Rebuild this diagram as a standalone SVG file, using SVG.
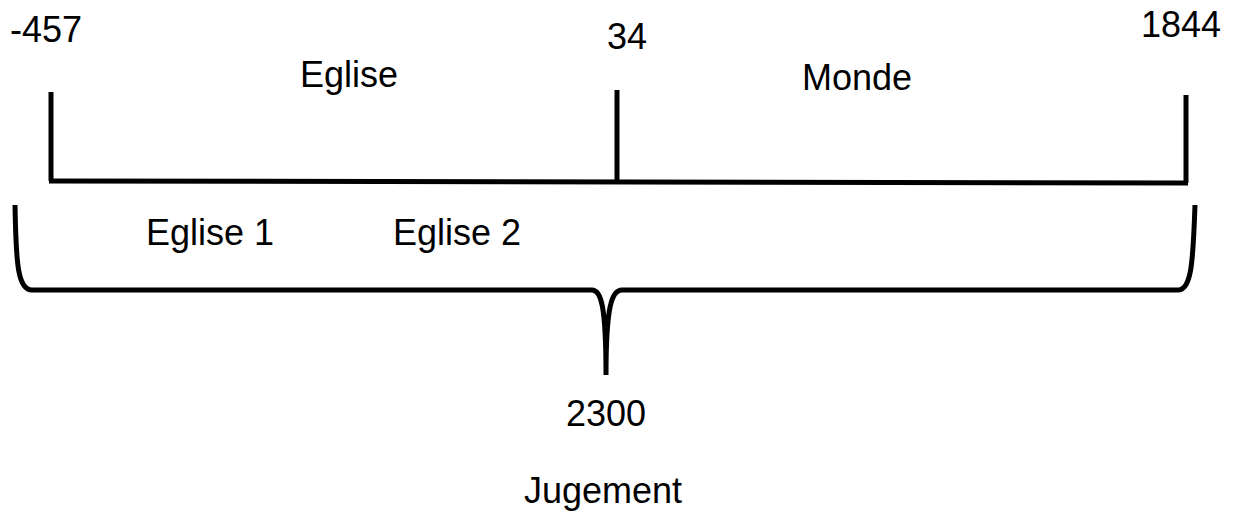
<svg xmlns="http://www.w3.org/2000/svg" width="1233" height="514" viewBox="0 0 1233 514">
<style>
.t{font-family:"Liberation Sans",Arial,sans-serif;font-size:36px;fill:#000}
.l{stroke:#000;stroke-width:5;fill:none;stroke-linecap:butt}
</style>
<rect width="1233" height="514" fill="#fff"/>
<g id="connectors">
<path class="l" d="M51,92 L51,181"/>
<path class="l" d="M617,90 L617,181"/>
<path class="l" d="M1186,95 L1186,183"/>
<path class="l" d="M49,181 L1188,183"/>
<path class="l" d="M15,205 C16,265 18,290 32,290 L592,290 C601,290 606,305 606,375 C606,305 612,290 622,290 L1178,290 C1191,290 1193,265 1195,205"/>
</g>
<g id="n-457"><text class="t" x="10" y="42">-457</text></g>
<g id="n-eglise"><text class="t" x="300" y="87">Eglise</text></g>
<g id="n-34"><text class="t" x="627" y="49" text-anchor="middle">34</text></g>
<g id="n-monde"><text class="t" x="802" y="90">Monde</text></g>
<g id="n-1844"><text class="t" x="1181" y="37" text-anchor="middle">1844</text></g>
<g id="n-eglise1"><text class="t" x="146" y="245">Eglise 1</text></g>
<g id="n-eglise2"><text class="t" x="393" y="245">Eglise 2</text></g>
<g id="n-2300"><text class="t" x="606" y="426" text-anchor="middle">2300</text></g>
<g id="n-jugement"><text class="t" x="524" y="503">Jugement</text></g>
</svg>
